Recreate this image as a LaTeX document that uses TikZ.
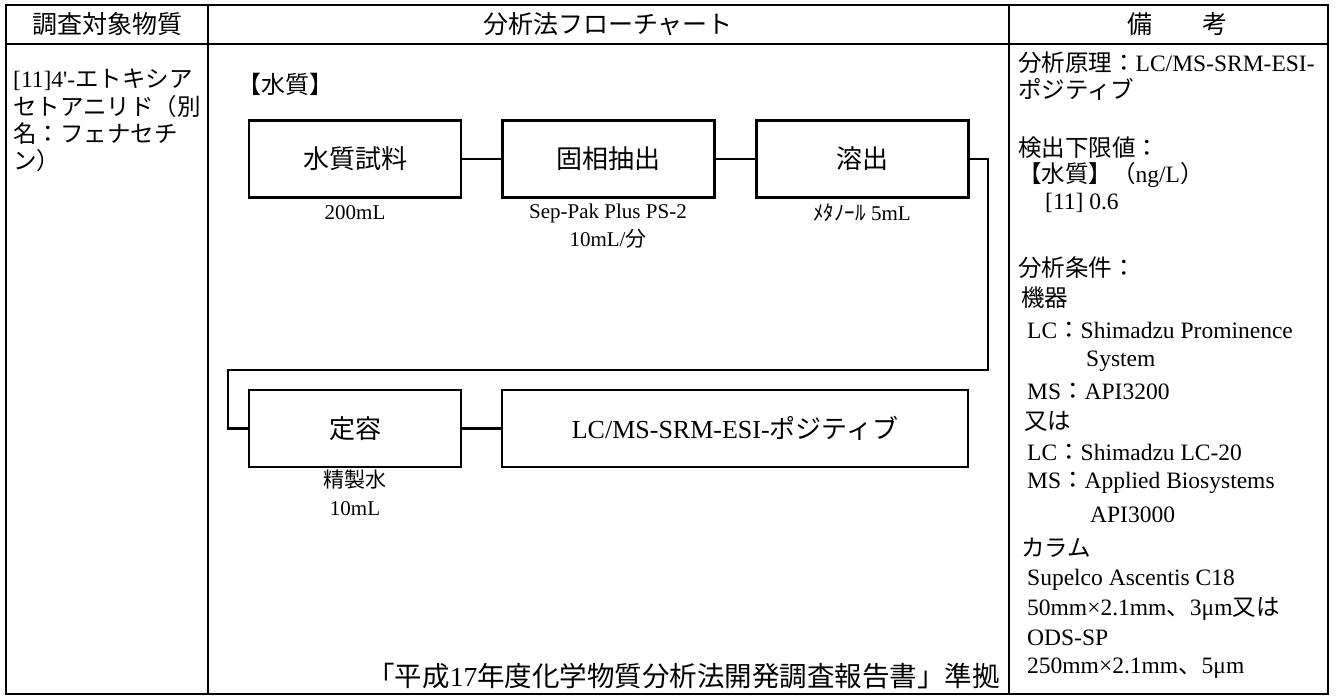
\documentclass[tikz,border=0pt]{standalone}
\usepackage{fontspec}
\setmainfont{Liberation Serif}[Ligatures=TeXOff]
\newfontfamily\jp{Noto Sans CJK JP}
\newcommand{\jtx}[1]{{\jp #1}}
\begin{document}
\begin{tikzpicture}[x=1pt,y=-1pt,align=center,
  frame/.style={line width=2.8pt},
  proc/.style={draw,line width=2.8pt,minimum width=212pt,minimum height=77pt,inner sep=0pt,font=\fontsize{26}{30}\selectfont},
  link/.style={line width=2.6pt},
  note/.style={inner sep=0pt,font=\fontsize{21}{25}\selectfont},
  head/.style={inner sep=0pt,font=\jp\fontsize{25}{30}\selectfont},
  cell/.style={anchor=west,inner sep=0pt,font=\fontsize{23.5}{28}\selectfont}]
\useasboundingbox (0,0) rectangle (1342,698);
% table
\draw[frame] (6,5) rectangle (1328,694);
\draw[frame] (6,44) -- (1328,44);
\draw[frame] (208,5) -- (208,694);
\draw[frame] (1009,5) -- (1009,694);
\node[head] (h1) at (107,24) {調査対象物質};
\node[head] (h2) at (608,24) {分析法フローチャート};
\node[head] (h3) at (1177,24) {備\hspace{2em}考};
% substance
\node[cell] (s1) at (13,80) {[11]4'-\jtx{エトキシア}};
\node[cell] (s2) at (13,107) {\jtx{セトアニリド（別}};
\node[cell] (s3) at (13,134) {\jtx{名：フェナセチ}};
\node[cell] (s4) at (13,161) {\jtx{ン）}};
% flow chart
\node[cell,font=\jp\fontsize{24}{28}\selectfont] (w) at (237,84) {【水質】};
\node[proc] (v1) at (355,159) {\jtx{水質試料}};
\node[proc] (v2) at (608.5,159) {\jtx{固相抽出}};
\node[proc] (v3) at (862.5,159) {\jtx{溶出}};
\node[proc] (v4) at (355,428.5) {\jtx{定容}};
\node[proc,minimum width=466pt] (v5) at (735,428.5) {LC/MS-SRM-ESI-\jtx{ポジティブ}};
\node[note] (a1) at (355,213) {200mL};
\node[note] (a2) at (608,213) {Sep-Pak Plus PS-2};
\node[note] (a3) at (608,239) {10mL/\jtx{分}};
\node[note] (a4) at (862,213) {\jtx{ﾒﾀﾉｰﾙ} 5mL};
\node[note] (a5) at (355,480) {\jtx{精製水}};
\node[note] (a6) at (355,509) {10mL};
\coordinate (c1) at (988,370);
\coordinate (c2) at (228,370);
\draw[link] (v1) -- (v2);
\draw[link] (v2) -- (v3);
\draw[link] (v3.east) -| (c1) -- (c2) |- (v4.west);
\draw[link] (v4) -- (v5);
\node[anchor=east,inner sep=0pt,font=\jp\fontsize{27.5}{32}\selectfont] (f1) at (1000,676) {「平成{\rmfamily 17}年度化学物質分析法開発調査報告書」準拠};
% remarks
\node[cell] (r1) at (1018,63) {\jtx{分析原理：}LC/MS-SRM-ESI-};
\node[cell] (r2) at (1018,89) {\jtx{ポジティブ}};
\node[cell] (r3) at (1018,148) {\jtx{検出下限値：}};
\node[cell] (r4) at (1018,175) {\jtx{【水質】（}ng/L\jtx{）}};
\node[cell] (r5) at (1045,203) {[11] 0.6};
\node[cell] (r6) at (1018,268) {\jtx{分析条件：}};
\node[cell] (r7) at (1021,298) {\jtx{機器}};
\node[cell] (r8) at (1027,330) {LC\jtx{：}Shimadzu Prominence};
\node[cell] (r9) at (1086,361) {System};
\node[cell] (r10) at (1027,391) {MS\jtx{：}API3200};
\node[cell] (r11) at (1024,421) {\jtx{又は}};
\node[cell] (r12) at (1027,452) {LC\jtx{：}Shimadzu LC-20};
\node[cell] (r13) at (1027,483) {MS\jtx{：}Applied Biosystems};
\node[cell] (r14) at (1090,515) {API3000};
\node[cell] (r15) at (1021,548) {\jtx{カラム}};
\node[cell] (r16) at (1027,580) {Supelco Ascentis C18};
\node[cell] (r17) at (1027,609) {50mm×2.1mm\jtx{、}3μm\jtx{又は}};
\node[cell] (r18) at (1027,638) {ODS-SP};
\node[cell] (r19) at (1027,668) {250mm×2.1mm\jtx{、}5μm};
\end{tikzpicture}
\end{document}
